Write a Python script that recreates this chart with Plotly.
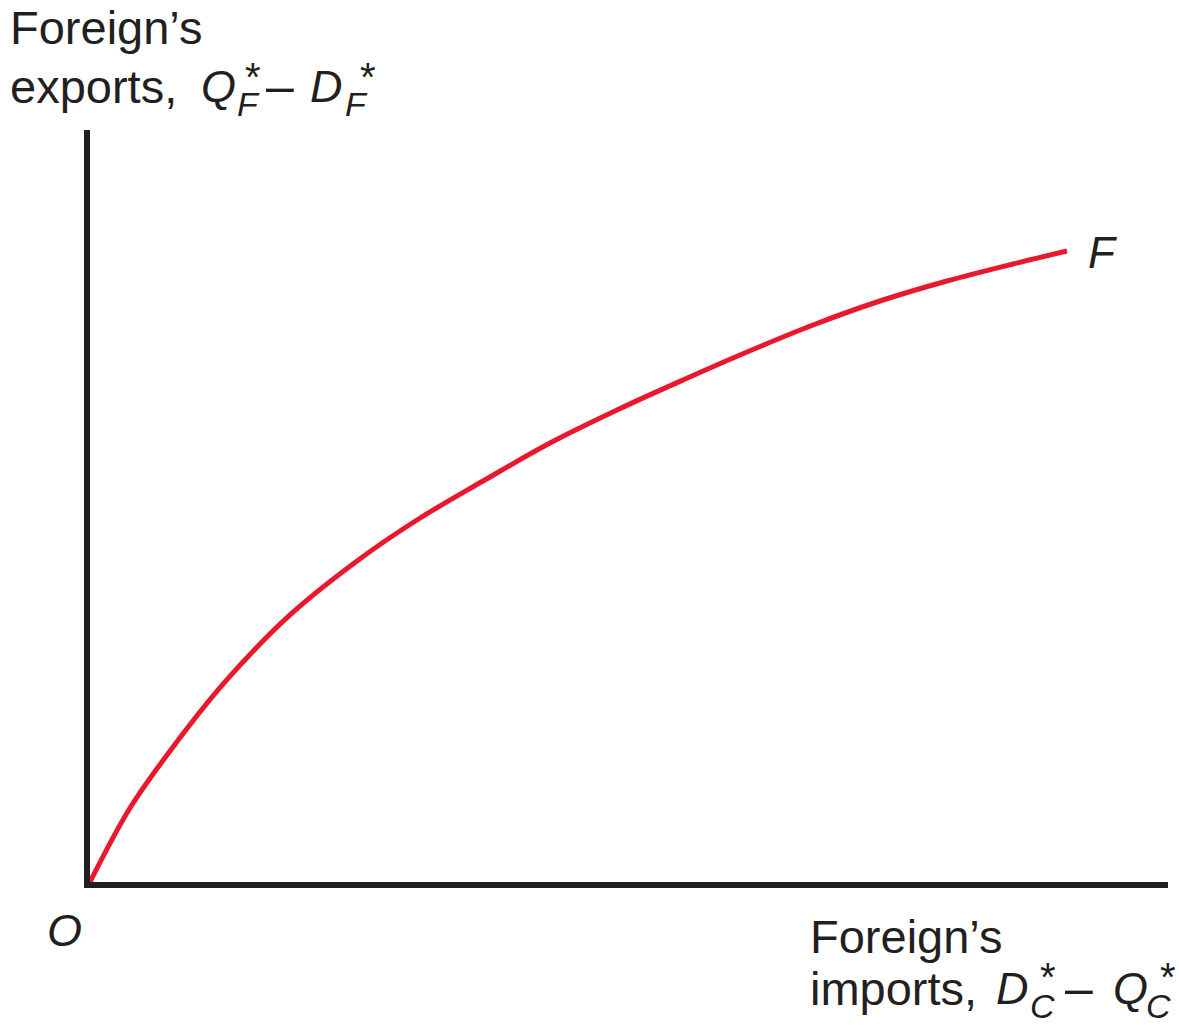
import plotly.graph_objects as go

# Foreign's export supply curve F (export quantity vs. import quantity)
imports_qty = [0, 3.71, 7.70, 12.52, 18.55, 24.77, 30.33, 36.46, 42.67, 48.89,
               55.01, 60.95, 67.07, 73.28, 79.50, 85.62, 90.63]
exports_qty = [0, 9.84, 17.95, 26.60, 35.51, 42.69, 48.14, 53.32, 58.38, 62.77,
               66.76, 70.48, 74.07, 77.26, 79.92, 82.18, 83.91]

W, H = 1179, 1025
L, R, T, B = 90, 11, 130, 143
INK = "#231f20"
RED = "#e8192c"
FONT = "Liberation Sans, Arial, Helvetica, sans-serif"


def px(x):
    return (x - L) / (W - L - R)


def py(y):
    return (H - B - y) / (H - T - B)


def label(text, x, y, size=45, italic=False):
    if italic:
        text = f"<i>{text}</i>"
    return dict(text=text, x=px(x), y=py(y), xref="paper", yref="paper",
                xanchor="left", yanchor="middle", showarrow=False,
                font=dict(size=size, color=INK, family=FONT))


fig = go.Figure(go.Scatter(
    x=imports_qty, y=exports_qty, mode="lines",
    line=dict(color=RED, width=5, shape="spline", smoothing=1.0),
    hoverinfo="skip", showlegend=False,
))

annotations = [
    # y-axis title
    label("Foreign’s", 8, 28, size=47),
    label("exports,", 8, 87, size=47),
    label("Q", 199, 87, italic=True),
    label("*", 243, 77, size=40),
    label("F", 235, 104, size=34, italic=True),
    label("–", 264, 86, size=50),
    label("D", 308, 87, italic=True),
    label("*", 358, 77, size=40),
    label("F", 343, 104, size=34, italic=True),
    # x-axis title
    label("Foreign’s", 808, 936, size=47),
    label("imports,", 808, 988, size=47),
    label("D", 994, 988, italic=True),
    label("*", 1038, 977, size=40),
    label("C", 1028, 1006, size=34, italic=True),
    label("–", 1063, 988, size=50),
    label("Q", 1111, 988, italic=True),
    label("*", 1158, 977, size=40),
    label("C", 1144, 1006, size=34, italic=True),
    # origin and curve label
    label("O", 45, 930, italic=True),
    label("F", 1086, 252, size=44, italic=True),
]

fig.update_layout(
    width=W, height=H,
    margin=dict(l=L, r=R, t=T, b=B, pad=0),
    paper_bgcolor="white", plot_bgcolor="white",
    xaxis=dict(range=[0, 100], showline=True, linecolor=INK, linewidth=6,
               showgrid=False, zeroline=False, showticklabels=False, ticks=""),
    yaxis=dict(range=[0, 100], showline=True, linecolor=INK, linewidth=6,
               showgrid=False, zeroline=False, showticklabels=False, ticks=""),
    annotations=annotations,
)

fig.write_html("out.html", config={"displayModeBar": False},
               post_script="document.body.style.margin='0';")
